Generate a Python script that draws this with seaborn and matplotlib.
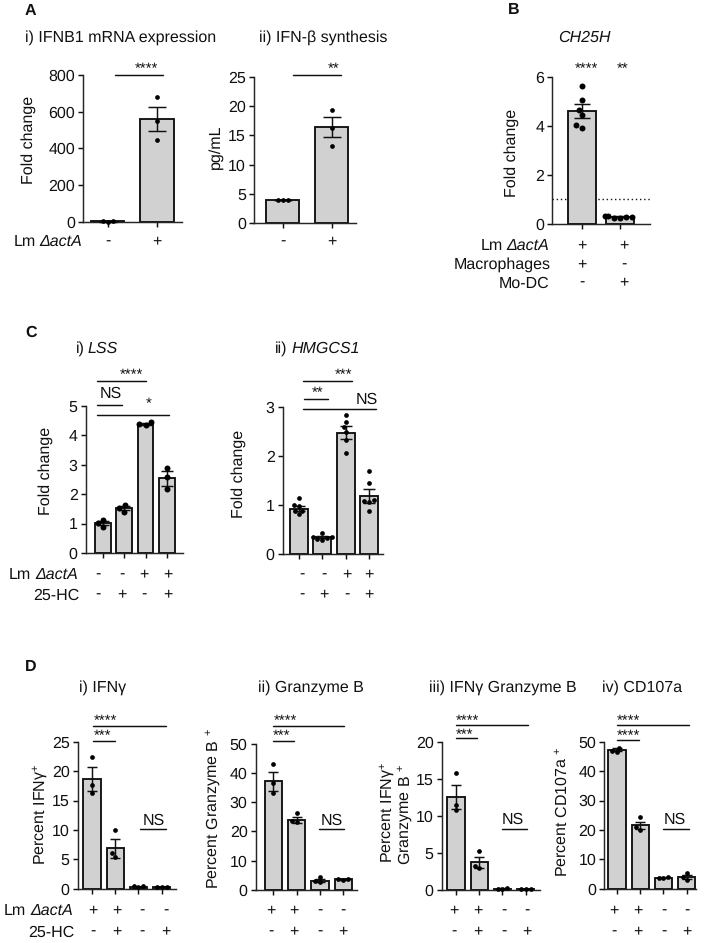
import warnings
import numpy as np
import pandas as pd
import matplotlib
matplotlib.use("Agg")
import matplotlib.pyplot as plt
from matplotlib.lines import Line2D
import seaborn as sns

warnings.filterwarnings("ignore")

# ---------- data ----------
A1_MEANS = [2, 560]
A1_SEMS = [1, 68]
A1_POINTS = [[1, 2, 3], [682, 551, 445]]

A2_MEANS = [4.0, 16.4]
A2_SEMS = [0.03, 1.75]
A2_POINTS = [[4, 4, 4], [19.3, 16.3, 13.2]]

B_MEANS = [4.6, 0.3]
B_SEMS = [0.27, 0.02]
B_POINTS = [[5.63, 5.07, 4.66, 4.44, 4.03, 3.92], [0.33, 0.30, 0.26, 0.33, 0.24, 0.30]]

C1_MEANS = [1.03, 1.52, 4.38, 2.54]
C1_SEMS = [0.07, 0.07, 0.03, 0.25]
C1_POINTS = [[1.12, 1.01, 0.87], [1.63, 1.54, 1.41], [4.40, 4.44, 4.36], [2.90, 2.60, 2.17]]

C2_MEANS = [0.93, 0.345, 2.47, 1.19]
C2_SEMS = [0.05, 0.02, 0.13, 0.14]
C2_POINTS = [[1.15, 1.00, 0.98, 0.89, 0.88, 0.82],
             [0.43, 0.36, 0.35, 0.33, 0.31, 0.29],
             [2.83, 2.68, 2.58, 2.49, 2.32, 2.05],
             [1.69, 1.44, 1.10, 1.08, 1.07, 0.88]]

D1_MEANS = [18.65, 6.9, 0.3, 0.3]
D1_SEMS = [2.0, 1.6, 0.05, 0.02]
D1_POINTS = [[22.4, 17.6, 16.3], [9.9, 6.0, 5.4], [0.4, 0.45, 0.25], [0.3, 0.3, 0.3]]

D2_MEANS = [37.1, 24.0, 3.2, 3.7]
D2_SEMS = [3.1, 1.0, 0.6, 0.15]
D2_POINTS = [[42.9, 36.4, 33.0], [26.4, 23.7, 23.3], [4.5, 3.0, 2.6], [3.5, 3.7, 3.9]]

D3_MEANS = [12.6, 3.7, 0.15, 0.07]
D3_SEMS = [1.65, 0.8, 0.02, 0.01]
D3_POINTS = [[15.8, 11.5, 10.8], [5.25, 3.2, 3.0], [0.1, 0.2, 0.15], [0.07, 0.07, 0.07]]

D4_MEANS = [47.3, 21.5, 3.8, 4.0]
D4_SEMS = [0.5, 1.3, 0.1, 0.7]
D4_POINTS = [[48.0, 47.0, 46.6], [24.3, 21.0, 20.0], [3.8, 3.9, 3.7], [5.3, 4.0, 3.0]]

TICKS_800 = [0, 200, 400, 600, 800]
TICKS_25 = [0, 5, 10, 15, 20, 25]
TICKS_6 = [0, 2, 4, 6]
TICKS_5 = [0, 1, 2, 3, 4, 5]
TICKS_3 = [0, 1, 2, 3]
TICKS_50 = [0, 10, 20, 30, 40, 50]
TICKS_20 = [0, 5, 10, 15, 20]

# ---------- figure set-up ----------
W, H = 709, 943
sns.set_theme(style="ticks")
plt.rcParams.update({
    "font.family": ["Liberation Sans", "DejaVu Sans"],
    "mathtext.fontset": "custom",
    "mathtext.rm": "Liberation Sans",
    "mathtext.it": "Liberation Sans:italic",
    "mathtext.bf": "Liberation Sans:bold",
    "mathtext.default": "regular",
    "text.hinting": "no_hinting",
    "text.hinting_factor": 1,
})
fig = plt.figure(figsize=(W / 100, H / 100), dpi=100, facecolor="white")
TICK_FS = 11.4
TITLE_FS = 11.3
YFS = 11.2
BAR = "#d1d1d1"
INK = "#111111"


def fx(px):
    return px / W


def fy(py):
    return 1 - py / H


def txt(px, py, s, fs=TITLE_FS, ha="left", rot=0, **kw):
    fig.text(fx(px), fy(py + 0.7), s, fontsize=fs, ha=ha, va="center", rotation=rot,
             color=INK, rotation_mode="anchor" if rot == 0 else "default", **kw)


def stars(px, py, s):
    fig.text(fx(px), fy(py + 3), s, fontsize=10.5, ha="center", va="center", color=INK)


def hline(x0, x1, py, lw=1.05):
    fig.add_artist(Line2D([fx(x0), fx(x1)], [fy(py), fy(py)], color=INK, lw=lw,
                          transform=fig.transFigure))


def panel(L, R, top, bottom, tick_px, ymax, yticks, means, sems, points,
          bar_w=0.74, dot=3.4, cap=3.7):
    ax = fig.add_axes([fx(L), fy(bottom), (R - L) / W, (bottom - top) / H])
    n = len(means)
    groups = list(range(n))
    df_bar = pd.DataFrame({"group": groups, "value": means})
    df_pts = pd.DataFrame({
        "group": [g for g, pts in zip(groups, points) for _ in pts],
        "value": [v for pts in points for v in pts],
    })
    sns.barplot(data=df_bar, x="group", y="value", color=BAR, saturation=1,
                width=bar_w, edgecolor=INK, linewidth=1.35, errorbar=None, ax=ax,
                clip_on=False, zorder=2)
    ax.errorbar(groups, means, yerr=sems, fmt="none", ecolor=INK, elinewidth=1.05,
                capsize=cap, capthick=1.05, zorder=3, clip_on=False)
    sns.swarmplot(data=df_pts, x="group", y="value", color="black", size=dot, ax=ax,
                  zorder=4, clip_on=False)
    for c in ax.collections:
        c.set_clip_on(False)
    dt = (tick_px[-1] - tick_px[0]) / max(n - 1, 1)
    ax.set_xlim((L - tick_px[0]) / dt, (R - tick_px[0]) / dt)
    ax.set_ylim(0, ymax)
    ax.set_yticks(yticks)
    ax.set_xticks(groups)
    ax.set_xticklabels([])
    ax.set_xlabel("")
    ax.set_ylabel("")
    ax.tick_params(axis="y", labelsize=TICK_FS, length=3.6, width=1.05, pad=2.2, colors=INK)
    ax.tick_params(axis="x", length=3.6, width=1.05, colors=INK)
    sns.despine(ax=ax)
    ax.spines["left"].set_linewidth(1.05)
    ax.spines["bottom"].set_linewidth(1.05)
    ax.patch.set_alpha(0)
    return ax


HC = "25-HC"


def lm(right, py):
    txt(right, py, "ΔactA", ha="right", style="italic")
    txt(right - 46.5, py, "Lm", ha="right")


def signs(xs, py, row):
    for x, s in zip(xs, row):
        fig.text(fx(x), fy(py), s, fontsize=11.5, ha="center", va="center", color=INK)


# ---------- A ----------
txt(25, 10, "A", fs=11.5, fontweight="bold")
txt(25, 37, "i) IFNB1 mRNA expression")
txt(259.3, 37, "ii) IFN-β synthesis")
panel(83, 181.7, 75, 221.7, [107.7, 157], 800, TICKS_800, A1_MEANS, A1_SEMS, A1_POINTS, 0.67, cap=6.4)
panel(254, 356, 76.7, 223.3, [282.7, 331.7], 25, TICKS_25, A2_MEANS, A2_SEMS, A2_POINTS, 0.67, cap=6.4)
txt(29, 139.3, "Fold change", ha="center", rot=90, fs=YFS)
txt(216, 145.7, "pg/mL", ha="center", rot=90, fs=YFS)
hline(115, 163.3, 74.7)
stars(146, 65.7, "****")
hline(292.7, 341, 74.7)
stars(333.3, 65.7, "**")
lm(82.3, 241.3)
signs([107.5, 157], 241.3, ["-", "+"])
signs([283, 332], 241.3, ["-", "+"])

# ---------- B ----------
txt(507.7, 9.3, "B", fs=11.5, fontweight="bold")
txt(558, 37, "CH25H", style="italic")
axb = panel(552.3, 650, 76.7, 224, [582, 620], 6, TICKS_6, B_MEANS, B_SEMS, B_POINTS, 0.76, 4.3, cap=6)
axb.axhline(1, color=INK, lw=1.0, ls=(0, (1, 2)), zorder=1)
txt(511.7, 152, "Fold change", ha="center", rot=90, fs=YFS)
stars(586, 66, "****")
stars(622.3, 66, "**")
lm(549.3, 245)
txt(551, 264, "Macrophages", ha="right")
txt(549.3, 282.7, "Mo-DC", ha="right")
signs([581.7, 624.3], 245, ["+", "+"])
signs([581.7, 624.3], 264, ["+", "-"])
signs([581.7, 624.3], 282.7, ["-", "+"])

# ---------- C ----------
txt(25, 331.7, "C", fs=11.5, fontweight="bold")
txt(76, 348, "i)")
txt(88, 348, "LSS", style="italic")
txt(275, 348, "ii)")
txt(291, 348, "HMGCS1", style="italic")
panel(85.7, 183, 406, 553, [102.7, 124, 145.7, 167], 5, TICKS_5, C1_MEANS, C1_SEMS, C1_POINTS, 0.74, 4.3, cap=4.4)
panel(282.7, 383.3, 406.7, 554.3, [299, 322.3, 345.7, 369], 3, TICKS_3, C2_MEANS, C2_SEMS, C2_POINTS, 0.76, cap=4.5)
txt(45.7, 470, "Fold change", ha="center", rot=90, fs=YFS)
txt(238.3, 473.3, "Fold change", ha="center", rot=90, fs=YFS)
hline(97.3, 146, 381)
stars(131, 372, "****")
hline(96.7, 121.7, 405)
txt(111, 392.7, "NS", ha="center", fs=TICK_FS)
hline(96.7, 169.3, 415)
stars(149, 401, "*")
hline(303.3, 351.7, 381)
stars(344, 372, "***")
hline(304, 328.3, 399)
stars(317.3, 389.7, "**")
hline(303.3, 376, 409.3)
txt(366.7, 399, "NS", ha="center", fs=TICK_FS)
lm(77.7, 574)
txt(79, 594.7, HC, ha="right")
ROW1 = ["-", "-", "+", "+"]
ROW2 = ["-", "+", "-", "+"]
signs([98, 121.7, 144, 167.7], 574, ROW1)
signs([98, 121.7, 144, 167.7], 594.7, ROW2)
signs([302.3, 324.3, 346.7, 369], 574, ROW1)
signs([302.3, 324.3, 346.7, 369], 594.7, ROW2)

# ---------- D ----------
txt(25, 665.7, "D", fs=11.5, fontweight="bold")
txt(79.3, 687.3, "i) IFNγ")
txt(258.3, 687.3, "ii) Granzyme B")
txt(429, 687, "iii) IFNγ Granzyme B")
txt(601.7, 687, "iv) CD107a")
panel(77.7, 175.7, 741.7, 888.7, [92, 115, 138.3, 161.7], 25, TICKS_25, D1_MEANS, D1_SEMS, D1_POINTS)
panel(255.7, 357, 743.7, 890, [273.3, 296.7, 320, 343.3], 50, TICKS_50, D2_MEANS, D2_SEMS, D2_POINTS)
panel(441.7, 540, 742.3, 889.7, [456, 479.3, 502.7, 525.7], 20, TICKS_20, D3_MEANS, D3_SEMS, D3_POINTS)
panel(604.3, 695.7, 741.7, 888.7, [617, 640.3, 663.7, 686.7], 50, TICKS_50, D4_MEANS, D4_SEMS, D4_POINTS)
txt(40, 814, "Percent IFNγ$^{+}$", ha="center", rot=90, fs=YFS)
txt(213.3, 808, "Percent Granzyme B $^{+}$", ha="center", rot=90, fs=YFS)
txt(387.3, 811.7, "Percent IFNγ$^{+}$", ha="center", rot=90, fs=YFS)
txt(405, 814, "Granzyme B $^{+}$", ha="center", rot=90, fs=YFS)
txt(561.7, 810.7, "Percent CD107a $^{+}$", ha="center", rot=90, fs=YFS)

for top, sec, ns, tx, sx, sy in [
    ((92.7, 165.7), (92.7, 115), (140, 165.7), 105.7, 102.3, 733.3),
    ((272.7, 344.3), (272.7, 294.3), (319.3, 344.3), 285, 281.7, 733.3),
]:
    hline(*top, 726)
    stars(tx, 718, "****")
    hline(*sec, 741.3)
    stars(sx, sy, "***")
    hline(*ns, 829)
    txt((ns[0] + ns[1]) / 2 + 0.5, 820, "NS", ha="center", fs=TICK_FS)
hline(455.7, 527.7, 725)
stars(467.7, 717.7, "****")
hline(455.7, 477.3, 737.7)
stars(464.3, 731.7, "***")
hline(501.7, 526.7, 828.7)
txt(513.3, 819, "NS", ha="center", fs=TICK_FS)
hline(616.7, 689, 725)
stars(628.7, 717.7, "****")
hline(616.7, 638.7, 739.7)
stars(628, 733, "****")
hline(663.3, 688.7, 828.7)
txt(675, 819, "NS", ha="center", fs=TICK_FS)

lm(72.7, 910)
txt(74, 931.7, HC, ha="right")
ROW3 = ["+", "+", "-", "-"]
ROW4 = ["-", "+", "-", "+"]
for xs in ([93.3, 116.7, 142.3, 165.7], [271, 294, 320, 343.3],
           [454.3, 477.7, 504, 526.7], [614.3, 638.3, 664.3, 687.3]):
    signs(xs, 910, ROW3)
    signs(xs, 931.7, ROW4)

fig.savefig("out.png", dpi=100, facecolor="white")
